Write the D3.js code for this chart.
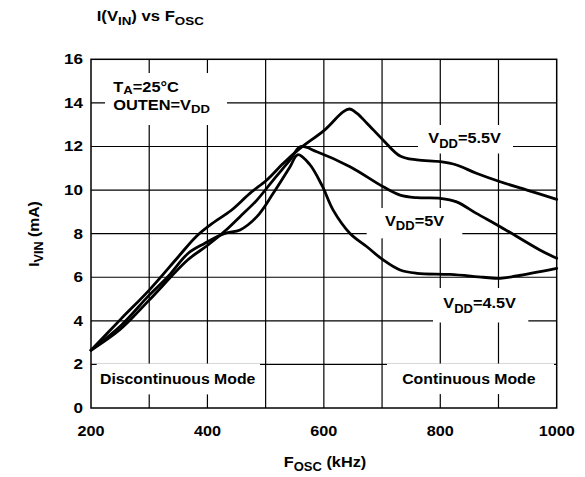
<!DOCTYPE html>
<html>
<head>
<meta charset="utf-8">
<script src="https://cdn.jsdelivr.net/npm/d3@7"></script>
<style>
  html, body { margin: 0; padding: 0; background: #fff; }
  svg { display: block; }
  text { font-family: "Liberation Sans", Arial, Helvetica, sans-serif; font-weight: bold; fill: #000; }
</style>
</head>
<body>
<svg id="chart" width="585" height="477"></svg>
<script>
// ---- data ----
const xTicks = [200, 400, 600, 800, 1000];
const xGrid = [300, 400, 500, 600, 700, 800, 900];
const yTicks = [0, 2, 4, 6, 8, 10, 12, 14, 16];

const freq55 = [200, 252, 300, 350, 380, 410, 440, 473, 502, 530, 559, 601, 633, 644, 657, 674, 702, 731, 760, 800, 828, 862, 903, 949, 1000];
const curr55 = [2.65, 4.1, 5.41, 6.94, 7.85, 8.5, 9.05, 9.85, 10.46, 11.22, 11.91, 12.75, 13.59, 13.72, 13.52, 13.07, 12.29, 11.56, 11.38, 11.3, 11.15, 10.77, 10.38, 10.0, 9.57];

const freq50 = [200, 250, 300, 366, 401, 435, 456, 485, 513, 542, 560, 588, 645, 702, 731, 760, 800, 828, 862, 903, 971, 1000];
const curr50 = [2.65, 3.6, 4.95, 6.79, 7.48, 8.24, 8.78, 9.54, 10.46, 11.38, 11.99, 11.76, 11.07, 10.15, 9.77, 9.65, 9.62, 9.46, 8.93, 8.32, 7.25, 6.87];

const freq45 = [200, 252, 300, 332, 367, 395, 430, 456, 485, 513, 542, 555, 575, 597, 616, 645, 674, 702, 731, 760, 817, 874, 903, 931, 1000];
const curr45 = [2.65, 3.8, 5.18, 6.02, 7.1, 7.55, 8.01, 8.17, 8.78, 9.85, 11.07, 11.62, 11.2, 10.2, 9.08, 8.01, 7.4, 6.79, 6.33, 6.18, 6.13, 6.0, 5.95, 6.06, 6.41];

const series = [
  { name: "5.5", f: freq55, v: curr55 },
  { name: "5", f: freq50, v: curr50 },
  { name: "4.5", f: freq45, v: curr45 }
];

// ---- layout ----
const svg = d3.select("#chart");
const x = d3.scaleLinear().domain([200, 1000]).range([91, 556.7]);
const y = d3.scaleLinear().domain([0, 16]).range([408, 59.3]);

// grid
const grid = svg.append("g").attr("stroke", "#000").attr("stroke-width", 1.2);
grid.selectAll("line.v").data(xGrid).join("line")
  .attr("x1", d => x(d)).attr("x2", d => x(d))
  .attr("y1", y(0)).attr("y2", y(16));
grid.selectAll("line.h").data(yTicks.filter(d => d > 0 && d < 16)).join("line")
  .attr("x1", x(200)).attr("x2", x(1000))
  .attr("y1", d => y(d)).attr("y2", d => y(d));

// white label boxes that interrupt the grid
const boxes = [
  [105, 73, 122, 52],
  [418, 125, 95, 28.5],
  [366.7, 208, 95.6, 30.3],
  [433, 288, 95.3, 34.5],
  [96.7, 363.6, 163.3, 30.8],
  [387, 363.6, 167, 30.5]
];
svg.append("g").selectAll("rect").data(boxes).join("rect")
  .attr("x", d => d[0]).attr("y", d => d[1]).attr("width", d => d[2]).attr("height", d => d[3])
  .attr("fill", "#fff");

// frame
svg.append("rect")
  .attr("x", x(200)).attr("y", y(16))
  .attr("width", x(1000) - x(200)).attr("height", y(0) - y(16))
  .attr("fill", "none").attr("stroke", "#000").attr("stroke-width", 1.5);

// curves
const line = d3.line().x(d => x(d[0])).y(d => y(d[1])).curve(d3.curveCatmullRom.alpha(0.5));
svg.append("g").selectAll("path").data(series).join("path")
  .attr("d", s => line(s.f.map((f, i) => [f, s.v[i]])))
  .attr("fill", "none").attr("stroke", "#000").attr("stroke-width", 2.8)
  .attr("stroke-linejoin", "round").attr("stroke-linecap", "round");

// text helper: parts = [[string, isSub], ...]
function label(px, py, parts, size, sx, anchor, rot, subDy) {
  const sd = subDy != null ? subDy : size * 0.28;
  const g = svg.append("g")
    .attr("transform", `translate(${px},${py})` + (rot ? ` rotate(${rot})` : "") + ` scale(${sx},1)`);
  const t = g.append("text").attr("font-size", size).attr("text-anchor", anchor || "start");
  let sub = false;
  parts.forEach(p => {
    const ts = t.append("tspan").text(p[0]);
    if (p[1] && !sub) { ts.attr("dy", sd).attr("font-size", size * 0.8); sub = true; }
    else if (p[1]) { ts.attr("font-size", size * 0.8); }
    else if (!p[1] && sub) { ts.attr("dy", -sd); sub = false; }
  });
  return t;
}

// title
label(96.7, 20.5, [["I(V"], ["IN", 1], [") vs F"], ["OSC", 1]], 14.5, 1.15);

// y ticks
yTicks.forEach(d => label(83, y(d) + 5, [[String(d)]], 14, 1.22, "end"));
// x ticks
xTicks.forEach(d => label(x(d), 436, [[String(d)]], 15, 1.08, "middle"));

// axis titles
label(325, 466.7, [["F"], ["OSC", 1], [" (kHz)"]], 15.5, 1.05, "middle");
label(39, 234, [["I"], ["VIN", 1], [" (mA)"]], 15, 1.05, "middle", -90);

// annotations
label(113.3, 91.5, [["T"], ["A", 1], ["=25°C"]], 14, 1.17, "start", 0, 2.5);
label(113.3, 109.5, [["OUTEN=V"], ["DD", 1]], 14, 1.17);
label(428.3, 143.3, [["V"], ["DD", 1], ["=5.5V"]], 15.5, 1.05);
label(385, 225.5, [["V"], ["DD", 1], ["=5V"]], 15.5, 1.05);
label(443.3, 308.3, [["V"], ["DD", 1], ["=4.5V"]], 15.5, 1.05);
label(100, 383.5, [["Discontinuous Mode"]], 15.5, 1.02);
label(402.2, 383.8, [["Continuous Mode"]], 15.5, 1.02);
</script>
</body>
</html>
